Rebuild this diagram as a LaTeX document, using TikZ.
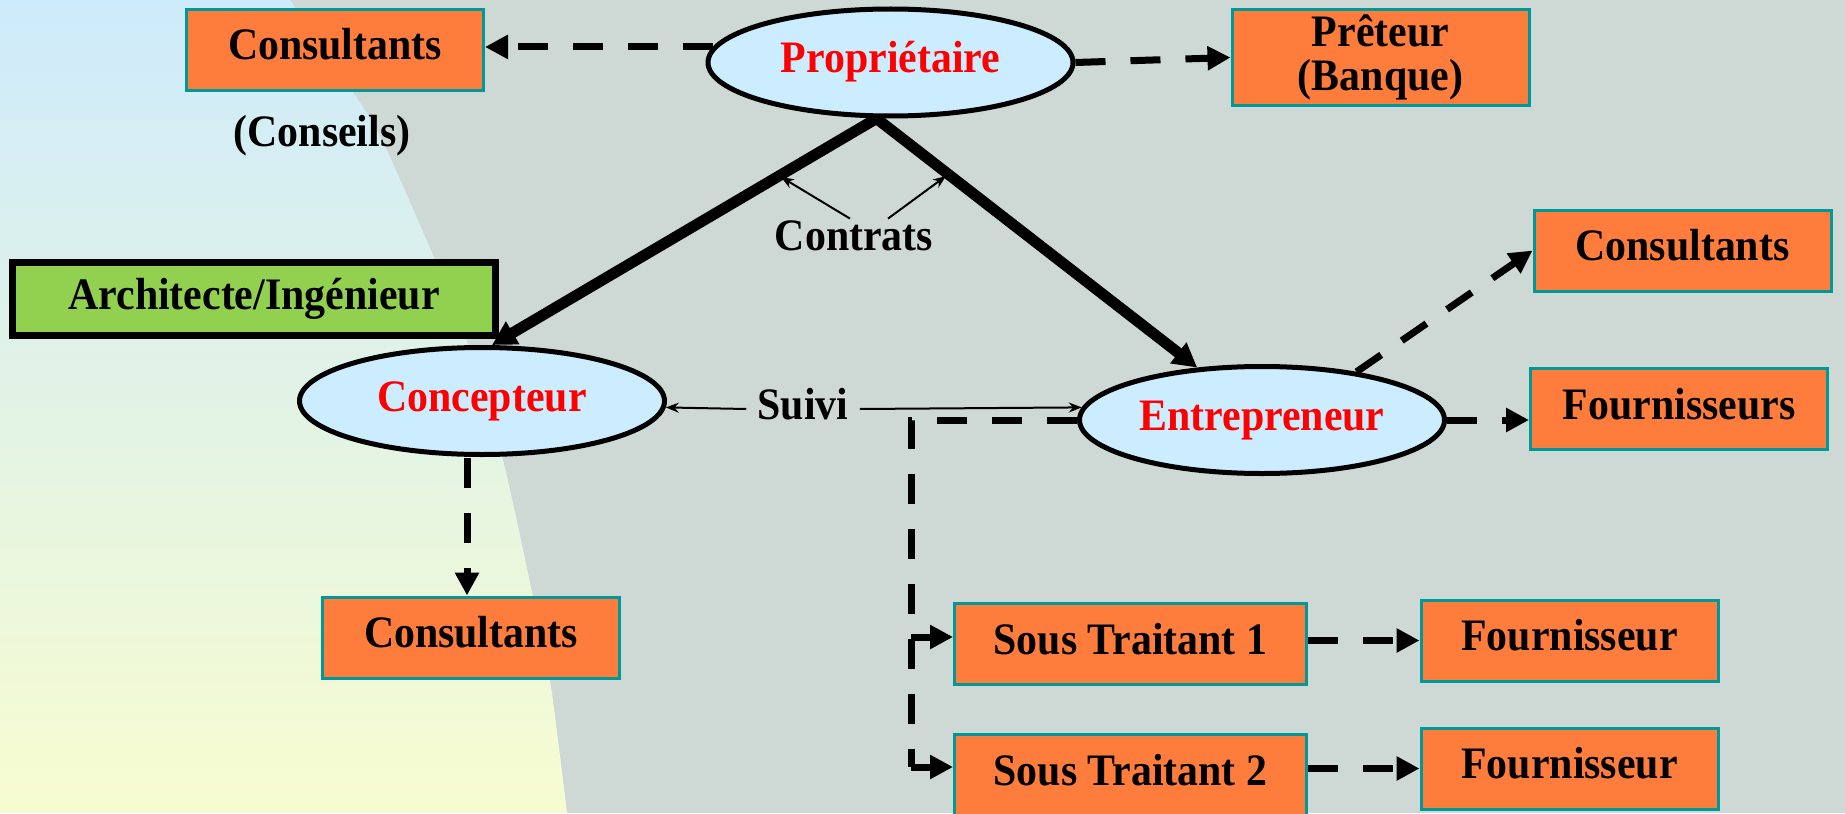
\documentclass[tikz,border=0pt]{standalone}
\usepackage{fontspec}
\setmainfont{Liberation Serif}[FakeStretch=0.93]
\usetikzlibrary{arrows.meta}
\definecolor{bggray}{RGB}{206,216,213}
\definecolor{skyl}{RGB}{206,235,251}
\definecolor{paley}{RGB}{247,252,208}
\definecolor{boxorange}{RGB}{255,125,60}
\definecolor{boxteal}{RGB}{0,153,153}
\definecolor{archgreen}{RGB}{146,208,80}
\definecolor{elfill}{RGB}{204,236,255}
\tikzset{
  lbl/.style={font=\fontsize{22.5}{22}\selectfont\bfseries, text height=15.5pt, text depth=5.5pt, inner sep=0pt},
  obox/.style={lbl, draw=boxteal, line width=1.5pt, fill=boxorange, minimum width=148.5pt, minimum height=40.5pt},
  ell/.style={lbl, ellipse, draw=black, line width=2.5pt, fill=elfill, text=red, minimum width=182.5pt, minimum height=53.5pt},
  dsharrow/.style={line width=3.5pt, dash pattern=on 15pt off 12.5pt, -{Triangle[length=11.5pt,width=11.5pt]}},
  dshline/.style={line width=3.5pt, dash pattern=on 15pt off 12.5pt},
  heavy/.style={line width=5.5pt, -{Triangle[length=12pt,width=12.5pt]}},
  thinarrow/.style={line width=1pt, -{Stealth[length=6.5pt,width=5pt]}}
}
\usetikzlibrary{shapes.geometric}
\begin{document}
\begin{tikzpicture}[x=0.5pt,y=-0.5pt]
\useasboundingbox (0,0) rectangle (1845,813);
\clip (0,0) rectangle (1845,813);
% background
\fill[bggray] (0,0) rectangle (1845,813);
\shade[top color=skyl, bottom color=paley] (0,0) -- plot[smooth] coordinates {(290,0) (353,92) (382,140) (435,260) (470,350) (503,460) (533,597) (550,680) (567,813)} -- (0,813) -- cycle;

% nodes
\node[obox] (ctl) at (335,50) {Consultants};
\node[lbl] (conseils) at (322,137) {(Conseils)};
\node[ell] (prop) at (890.5,62.5) {Propriétaire};
\node[lbl, draw=boxteal, line width=1.5pt, fill=boxorange, minimum width=148.5pt, minimum height=48pt, text height=, text depth=, align=center, font=\fontsize{22.5}{22}\selectfont\bfseries] (pret) at (1380.5,57.5) {Prêteur\\(Banque)};
\node[lbl, draw=black, line width=3.5pt, fill=archgreen, minimum width=241.5pt, minimum height=36.5pt] (arch) at (254,299) {Architecte/Ingénieur};
\node[ell] (conc) at (482,401) {Concepteur};
\node[ell] (ent) at (1262,420) {Entrepreneur};
\node[lbl] (contrats) at (854,240) {Contrats};
\node[lbl, inner xsep=5.5pt] (suivi) at (803,409) {Suivi};
\node[obox] (cr) at (1682.5,250.5) {Consultants};
\node[obox] (four) at (1679,409) {Fournisseurs};
\node[obox] (cl) at (471,637.5) {Consultants};
\node[obox, minimum width=176pt] (st1) at (1130.5,644) {Sous Traitant 1};
\node[obox, minimum width=176pt] (st2) at (1130.5,775) {Sous Traitant 2};
\node[obox] (f1) at (1569.5,640.5) {Fournisseur};
\node[obox] (f2) at (1569.5,768.5) {Fournisseur};

% helper coordinates
\coordinate (bus) at (911,420);
\coordinate (b1) at (911,637);
\coordinate (b2) at (911,767);
\coordinate (t1) at (781,177);
\coordinate (t2) at (946,176);
\coordinate (dn) at (467,458);

% heavy contract lines
\draw[heavy] ([xshift=-7pt]prop.south) -- ([xshift=5pt]conc.north);
\draw[heavy] ([xshift=-7pt]prop.south) -- (ent.141);

% contrats thin arrows
\draw[thinarrow] ([xshift=-2pt]contrats.north) -- (t1);
\draw[thinarrow] ([xshift=17pt]contrats.north) -- (t2);

% suivi
\draw[thinarrow] (suivi.west) -- (conc.358);
\draw[thinarrow] (suivi.east) -- (ent.176);

% dashed arrows
\draw[dsharrow] (prop.175) -- (prop.175 -| ctl.east);
\draw[dsharrow] (prop.east) -- (pret.west);
\draw[dsharrow] (dn) -- (dn |- cl.north);
\draw[dsharrow] (ent.27) -- (cr.west);
\draw[dsharrow] (ent.east) -- (ent.east -| four.west);
\draw[dshline] (ent.west) -- (bus) -- (b2);
\draw[dsharrow] (b1) -- (b1 -| st1.west);
\draw[dsharrow] (b2) -- (b2 -| st2.west);
\draw[dsharrow] (f1.west -| st1.east) -- (f1.west);
\draw[dsharrow] (f2.west -| st2.east) -- (f2.west);
\end{tikzpicture}
\end{document}
